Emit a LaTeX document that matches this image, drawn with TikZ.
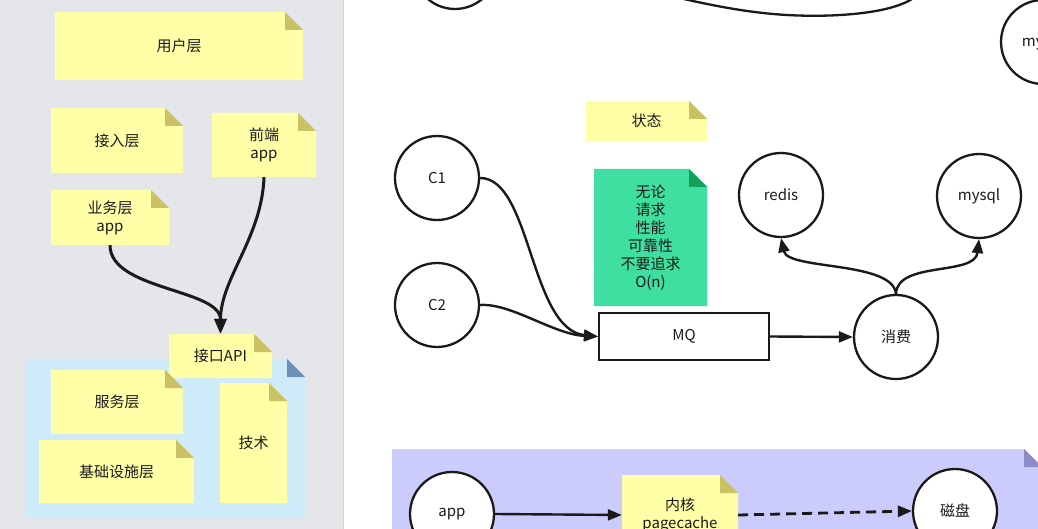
\documentclass[tikz,border=0pt]{standalone}
\usepackage{fontspec}
\setmainfont{Noto Sans CJK SC}
\usetikzlibrary{arrows.meta}
\definecolor{panelgray}{HTML}{E4E6EA}
\definecolor{noteyellow}{HTML}{FFFFA8}
\definecolor{notefold}{HTML}{C9C164}
\definecolor{notegreen}{HTML}{3EDFA0}
\definecolor{greenfold}{HTML}{12A05C}
\definecolor{boxblue}{HTML}{CFEBFA}
\definecolor{bluefold}{HTML}{6E90B8}
\definecolor{boxpurple}{HTML}{CCCCFC}
\definecolor{purplefold}{HTML}{8C8CC8}
\definecolor{inkc}{HTML}{1A1A1A}
\tikzset{
  notetext/.style={inner sep=0pt, align=center, text=inkc, font=\fontsize{15}{18}\selectfont},
  bubble/.style={circle, draw=inkc, line width=2.3pt, fill=white, minimum size=84pt, inner sep=0pt, font=\fontsize{15}{18}\selectfont, text=inkc},
  flow/.style={draw=inkc, line width=2.4pt, -{Triangle[length=14pt,width=11pt]}},
  bigflow/.style={draw=inkc, line width=3pt, -{Triangle[length=15pt,width=12pt]}},
  queuebox/.style={draw=inkc, line width=2pt, fill=white, inner sep=0pt, minimum width=170pt, minimum height=47pt, font=\fontsize{15}{18}\selectfont, text=inkc},
}
\newcommand\papernote[8]{%
  \fill[#6] (#2,#3) -- ({#4-18},#3) -- (#4,{#3+18}) -- (#4,#5) -- (#2,#5) -- cycle;
  \fill[#7] ({#4-18},#3) -- ({#4-18},{#3+18}) -- (#4,{#3+18}) -- cycle;
  \node[notetext, minimum width={(#4-#2)*1pt}, minimum height={(#5-#3)*1pt}] (#1) at ({(#2+#4)/2},{(#3+#5)/2}) {#8};
}
\begin{document}
\begin{tikzpicture}[x=1pt,y=-1pt]
\useasboundingbox (0,0) rectangle (1038,529);
\clip (0,0) rectangle (1038,529);
\fill[white] (0,0) rectangle (1038,529);
\fill[panelgray] (0,0) rectangle (343,529);
\draw[gray!35, line width=1pt] (343,0) -- (343,529);

% left panel
\papernote{user}{55}{12}{303}{80}{noteyellow}{notefold}{用户层}
\papernote{access}{51}{108}{183}{173}{noteyellow}{notefold}{接入层}
\papernote{front}{212}{113}{316}{177}{noteyellow}{notefold}{前端\\app}
\papernote{biz}{51}{190}{169}{245}{noteyellow}{notefold}{业务层\\app}
\papernote{corebox}{26}{359}{305}{517}{boxblue}{bluefold}{}
\papernote{api}{169}{334}{272}{378}{noteyellow}{notefold}{接口API}
\papernote{svc}{51}{370}{183}{434}{noteyellow}{notefold}{服务层}
\papernote{base}{39}{440}{194}{503}{noteyellow}{notefold}{基础设施层}
\papernote{tech}{220}{383}{287}{503}{noteyellow}{notefold}{技术}
\draw[bigflow] (front.south) .. controls +(-2,60) and +(0,-55) .. (api.north);
\draw[bigflow] (biz.south) .. controls +(0,45) and +(0,-45) .. (api.north);

% right area, top
\node[bubble] (topc) at (455,-33) {};
\node[bubble] (mysqltop) at (1043,42) {mysql};
\coordinate (cl) at (675,-3);
\coordinate (cr) at (915,-3);
\draw[inkc, line width=2.3pt] (cl) .. controls (740,12) and (780,17) .. (830,15.5) .. controls (870,14) and (900,8) .. (cr);

\papernote{state}{586}{101}{707}{141}{noteyellow}{notefold}{状态}
\papernote{green}{594}{169}{707}{306}{notegreen}{greenfold}{无论\\请求\\性能\\可靠性\\不要追求\\O(n)}

\node[bubble] (c1) at (437,178) {C1};
\node[bubble] (c2) at (437,305) {C2};
\node[queuebox] (mq) at (684,336.5) {MQ};
\node[bubble] (xf) at (896,337) {消费};
\node[bubble] (redis) at (781,195) {redis};
\node[bubble] (mysql) at (979,196) {mysql};

\draw[flow] (c1.east) .. controls +(51,0) and +(-68,-7) .. (mq.west);
\draw[flow] (c2.east) .. controls +(31,-2) and +(-44,-2) .. (mq.west);
\draw[flow] (mq.east) -- (xf.west);
\draw[flow] (xf.north) .. controls +(-3,-33) and +(7,32) .. (redis.south);
\draw[flow] (xf.north) .. controls +(1,-33) and +(-4,37) .. (mysql.south);

% bottom
\papernote{kbox}{392}{449}{1042}{600}{boxpurple}{purplefold}{}
\node[bubble] (app) at (452,514) {app};
\papernote{kernel}{622}{475}{738}{555}{noteyellow}{notefold}{内核\\pagecache}
\node[bubble] (disk) at (955,511) {磁盘};
\draw[flow] (app.east) -- (kernel.west);
\draw[flow, line width=2.8pt, dash pattern=on 10pt off 6pt] (kernel.east) -- (disk.west);
\end{tikzpicture}
\end{document}
